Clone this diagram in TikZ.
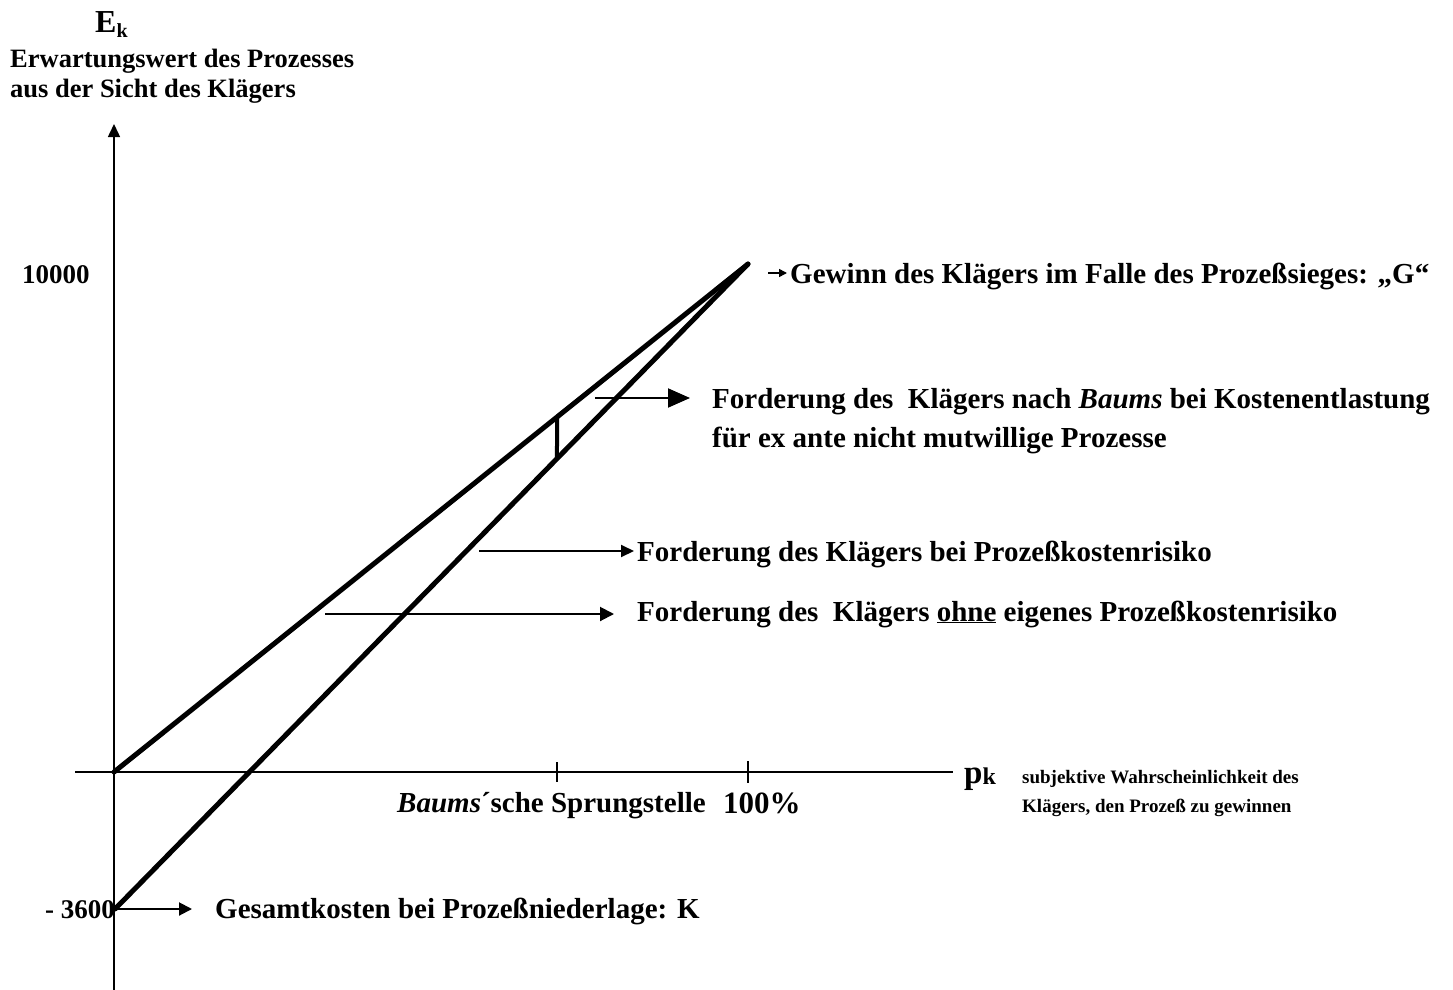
\documentclass[tikz,border=0pt]{standalone}
\usepackage{fontspec}
\setmainfont{Liberation Serif}
\usetikzlibrary{arrows.meta}
\begin{document}
\begin{tikzpicture}[x=1pt,y=-1pt,
  lbl/.style={inner sep=0pt, anchor=base west, font=\bfseries\fontsize{29}{34}\selectfont},
  small/.style={inner sep=0pt, anchor=base west, font=\bfseries\fontsize{19}{22}\selectfont},
  axis/.style={line width=1.5pt},
  graph/.style={line width=5pt, line cap=round},
  pointer/.style={line width=2pt},
]
\useasboundingbox (0,0) rectangle (1453,990);

% axes
\coordinate (O) at (114,772);
\coordinate (ybot) at (114,990);
\coordinate (ytop) at (114,124);
\coordinate (xl) at (75,772);
\coordinate (xr) at (953,772);
\draw[axis] (xl) -- (xr);
\draw[axis, -{Triangle[length=13pt,width=12pt]}] (ybot) -- (ytop);

% ticks on the p-axis
\coordinate (s1) at (557,762);
\coordinate (s2) at (557,782);
\coordinate (h1) at (748,761);
\coordinate (h2) at (748,783);
\draw[axis] (s1) -- (s2);
\draw[line width=2.5pt] (h1) -- (h2);

% the two claim lines
\coordinate (T) at (748,264);
\coordinate (K) at (115,909);
\draw[graph] (O) -- (T);
\draw[graph] (K) -- (T);

% jump at Baums' point
\coordinate (J1) at (intersection of O--T and 557,0--557,990);
\coordinate (J2) at (intersection of K--T and 557,0--557,990);
\draw[line width=4pt] (J1) -- (J2);

% axis labels
\node[inner sep=0pt, anchor=base west, font=\bfseries\fontsize{32}{36}\selectfont] (ek) at (95,33) {E\raisebox{-0.15em}{\fontsize{20}{22}\selectfont k}};
\node[inner sep=0pt, anchor=base west, font=\bfseries\fontsize{26.5}{30}\selectfont] (ew1) at (10,67) {Erwartungswert des Prozesses};
\node[inner sep=0pt, anchor=base west, font=\bfseries\fontsize{26.5}{30}\selectfont] (ew2) at (10,97) {aus der Sicht des Klägers};
\node[inner sep=0pt, anchor=base west, font=\bfseries\fontsize{27}{30}\selectfont] (v10) at (22,283) {10000};
\node[inner sep=0pt, anchor=base east, font=\bfseries\fontsize{27}{30}\selectfont] (v36) at (115,918) {- 3600};
\node[inner sep=0pt, anchor=base west, font=\bfseries\fontsize{33}{36}\selectfont] (pk) at (964,783) {p\raisebox{-0.05em}{\fontsize{24}{26}\selectfont k}};
\node[small] (sw1) at (1022,783) {subjektive Wahrscheinlichkeit des};
\node[small] (sw2) at (1022,812) {Klägers, den Prozeß zu gewinnen};
\node[inner sep=0pt, anchor=base east, font=\bfseries\fontsize{29}{34}\selectfont] (bs) at (706,812) {\textit{Baums}´sche Sprungstelle};
\node[inner sep=0pt, anchor=base west, font=\bfseries\fontsize{31}{34}\selectfont] (hp) at (723,813) {100\%};

% pointers and their texts
\coordinate (g0) at (768,273);
\coordinate (g1) at (787,273);
\draw[line width=1.5pt, -{Triangle[length=8pt,width=8pt]}] (g0) -- (g1);
\node[lbl] (gw) at (790,283) {Gewinn des Klägers im Falle des Prozeßsieges: „G“};

\coordinate (b0) at (595,398);
\coordinate (b1) at (690,398);
\draw[pointer, -{Triangle[length=22pt,width=19pt]}] (b0) -- (b1);
\node[lbl] (bz1) at (712,408) {Forderung des \ Klägers nach \textit{Baums} bei Kostenentlastung};
\node[lbl] (bz2) at (712,447) {für ex ante nicht mutwillige Prozesse};

\coordinate (r0) at (479,551);
\coordinate (r1) at (634,551);
\draw[pointer, -{Triangle[length=13pt,width=12pt]}] (r0) -- (r1);
\node[lbl] (rk) at (637,561) {Forderung des Klägers bei Prozeßkostenrisiko};

\coordinate (o0) at (325,614);
\coordinate (o1) at (614,614);
\draw[pointer, -{Triangle[length=14pt,width=14pt]}] (o0) -- (o1);
\node[lbl] (ok) at (637,621) {Forderung des \ Klägers \underline{ohne} eigenes Prozeßkostenrisiko};

\coordinate (k1) at (192,909);
\draw[pointer, -{Triangle[length=13pt,width=13pt]}] (K) -- (k1);
\node[lbl] (gk) at (215,918) {Gesamtkosten bei Prozeßniederlage: K};
\end{tikzpicture}
\end{document}
